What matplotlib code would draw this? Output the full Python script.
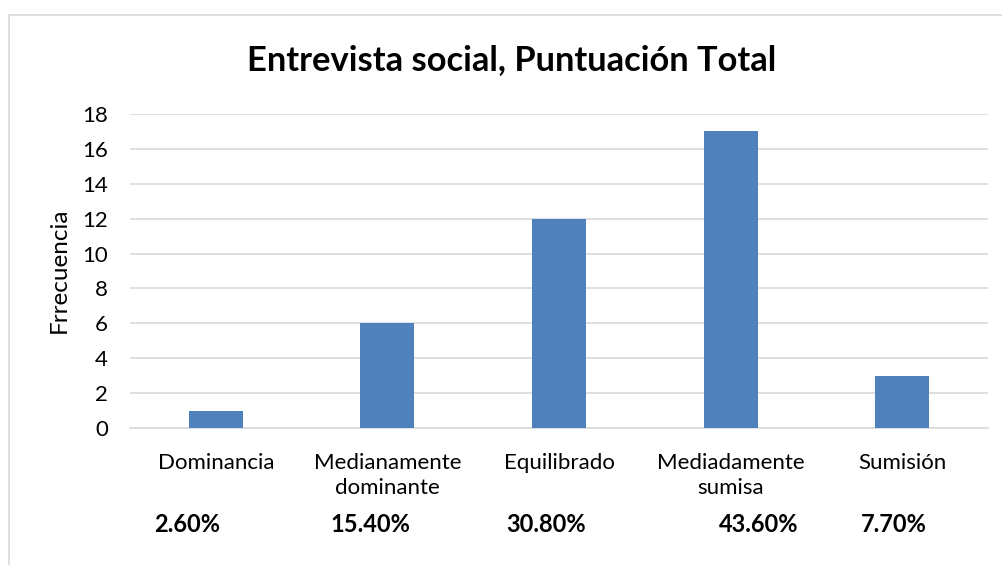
import matplotlib
matplotlib.use("Agg")
import matplotlib.pyplot as plt
from matplotlib.patches import Rectangle

categorias = ["Dominancia", "Medianamente\ndominante", "Equilibrado",
              "Mediadamente\nsumisa", "Sumisión"]
frecuencia = [1, 6, 12, 17, 3]
porcentajes = ["2.60%", "15.40%", "30.80%", "43.60%", "7.70%"]
# desplazamiento horizontal de cada porcentaje respecto a su categoria
desplaz = [-0.168, -0.101, -0.076, 0.166, -0.048]

plt.rcParams["font.family"] = ["Lato", "DejaVu Sans"]

fig = plt.figure(figsize=(10.02, 5.65), dpi=100)
W, H = 1002, 565
ax = fig.add_axes([130 / W, 1 - 428 / H, (988 - 130) / W, (428 - 114) / H])

x = range(len(categorias))
ax.bar(x, frecuencia, width=0.315, color="#4F81BD", zorder=3)

ax.set_xlim(-0.5, len(categorias) - 0.5)
ax.set_ylim(0, 18)
ax.set_yticks(range(0, 19, 2))
ax.set_xticks(list(x))
ax.set_xticklabels(categorias, fontsize=16, linespacing=1.3)
ax.tick_params(axis="y", labelsize=16, length=0, pad=16)
ax.tick_params(axis="x", length=0, pad=18)
ax.grid(axis="y", color="#D9D9D9", linewidth=1.2, zorder=0)
for s in ["top", "right", "left"]:
    ax.spines[s].set_visible(False)
ax.spines["bottom"].set_color("#D9D9D9")
ax.spines["bottom"].set_linewidth(1.2)

ax.set_ylabel("Frrecuencia", fontsize=17.5)
ax.yaxis.set_label_coords(-0.070, 0.503)

for i, (p, d) in enumerate(zip(porcentajes, desplaz)):
    ax.text(i + d, -97 / 314, p, transform=ax.get_xaxis_transform(),
            ha="center", va="center", fontsize=17, fontweight="bold")

fig.text(512 / W, 1 - 60 / H, "Entrevista social, Puntuación Total",
         ha="center", va="center", fontsize=24.8, fontweight="bold")

# marco del grafico
fig.patches.append(Rectangle((9 / W, -0.1), 1.2, 1 - 15 / H + 0.1,
                             transform=fig.transFigure, fill=False,
                             edgecolor="#D9D9D9", linewidth=1.2))

fig.savefig("out.png", dpi=100)
